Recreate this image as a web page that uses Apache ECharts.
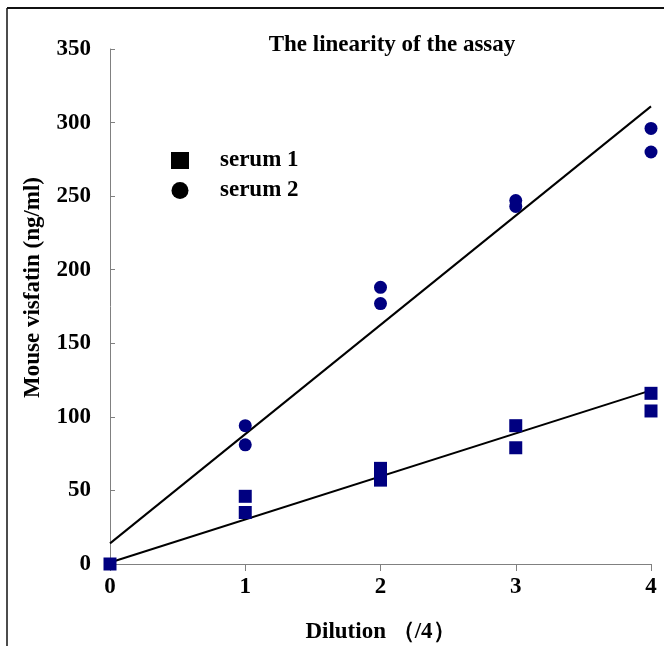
<!DOCTYPE html>
<html>
<head>
<meta charset="utf-8">
<script src="https://cdn.jsdelivr.net/npm/echarts@6/dist/echarts.min.js"></script>
<style>
  html, body { margin: 0; padding: 0; background: #fff; }
</style>
</head>
<body>
<div id="main" style="width: 664px; height: 646px;"></div>
<script>
  const serum1 = [
    [0, 0], [1, 46], [1, 35], [2, 65], [2, 57],
    [3, 94], [3, 79], [4, 116], [4, 104]
  ]
  const serum2 = [
    [1, 94], [1, 81], [2, 188], [2, 177],
    [3, 247], [3, 243], [4, 296], [4, 280]
  ]
  // fitted lines, end points
  const fit1 = [[0, 1], [4, 118]]
  const fit2 = [[0, 14], [4, 311]]
  const xTicks = [0, 1, 2, 3, 4]
  const yTicks = [0, 50, 100, 150, 200, 250, 300, 350]

  const font = '"Liberation Serif", "Times New Roman", serif'
  const navy = '#000080'
  const fs = 23

  let myChart = echarts.init(document.getElementById('main'))
  let option = {
    animation: false,
    backgroundColor: '#fff',
    textStyle: { fontFamily: font },
    title: {
      text: 'The linearity of the assay',
      left: 387,
      top: 29,
      textAlign: 'center',
      textStyle: { fontFamily: font, fontWeight: 'bold', fontSize: fs, color: '#000' }
    },
    legend: {
      orient: 'vertical',
      left: 166,
      top: 144,
      itemWidth: 18,
      itemHeight: 17,
      itemGap: 7,
      textStyle: { fontFamily: font, fontWeight: 'bold', fontSize: fs, color: '#000', padding: [0, 0, 0, 26] },
      data: [
        { name: 'serum 1', icon: 'rect', itemStyle: { color: '#000' } },
        { name: 'serum 2', icon: 'circle', itemStyle: { color: '#000' } }
      ]
    },
    grid: {
      left: 110,
      right: 13,
      top: 49,
      bottom: 82,
      outerBoundsMode: 'none'
    },
    xAxis: {
      type: 'value',
      min: xTicks[0],
      max: xTicks[xTicks.length - 1],
      interval: 1,
      name: 'Dilution （/4）',
      nameLocation: 'middle',
      nameGap: 57,
      nameTextStyle: { fontFamily: font, fontWeight: 'bold', fontSize: fs, color: '#000' },
      splitLine: { show: false },
      axisLine: { lineStyle: { color: '#808080', width: 1 } },
      axisTick: { inside: false, length: 7, lineStyle: { color: '#808080' } },
      axisLabel: { margin: 12, fontFamily: font, fontWeight: 'bold', fontSize: fs, color: '#000' }
    },
    yAxis: {
      type: 'value',
      min: yTicks[0],
      max: yTicks[yTicks.length - 1],
      interval: 50,
      name: 'Mouse visfatin (ng/ml)',
      nameLocation: 'middle',
      nameGap: 65,
      nameTextStyle: { fontFamily: font, fontWeight: 'bold', fontSize: fs, color: '#000', padding: [0, 0, 0, 38] },
      splitLine: { show: false },
      axisLine: { show: true, lineStyle: { color: '#808080', width: 1 } },
      axisTick: { show: true, inside: true, length: 5, lineStyle: { color: '#808080' } },
      axisLabel: { margin: 19, fontFamily: font, fontWeight: 'bold', fontSize: fs, color: '#000' }
    },
    graphic: [
      // outer frame of the figure (left and top edges)
      { type: 'line', shape: { x1: 7, y1: 8, x2: 664, y2: 8 }, style: { stroke: '#111', lineWidth: 2 } },
      { type: 'line', shape: { x1: 7, y1: 8, x2: 7, y2: 646 }, style: { stroke: '#111', lineWidth: 1.5 } }
    ],
    series: [
      {
        name: 'fit 2',
        type: 'line',
        data: fit2,
        symbol: 'none',
        silent: true,
        lineStyle: { color: '#000', width: 2 },
        z: 1
      },
      {
        name: 'fit 1',
        type: 'line',
        data: fit1,
        symbol: 'none',
        silent: true,
        lineStyle: { color: '#000', width: 2 },
        z: 1
      },
      {
        name: 'serum 2',
        type: 'scatter',
        data: serum2,
        symbol: 'circle',
        symbolSize: 13,
        itemStyle: { color: navy, opacity: 1 },
        z: 3
      },
      {
        name: 'serum 1',
        type: 'scatter',
        data: serum1,
        symbol: 'rect',
        symbolSize: 13,
        itemStyle: { color: navy, opacity: 1 },
        z: 3
      }
    ]
  }
  myChart.setOption(option)
</script>
</body>
</html>
